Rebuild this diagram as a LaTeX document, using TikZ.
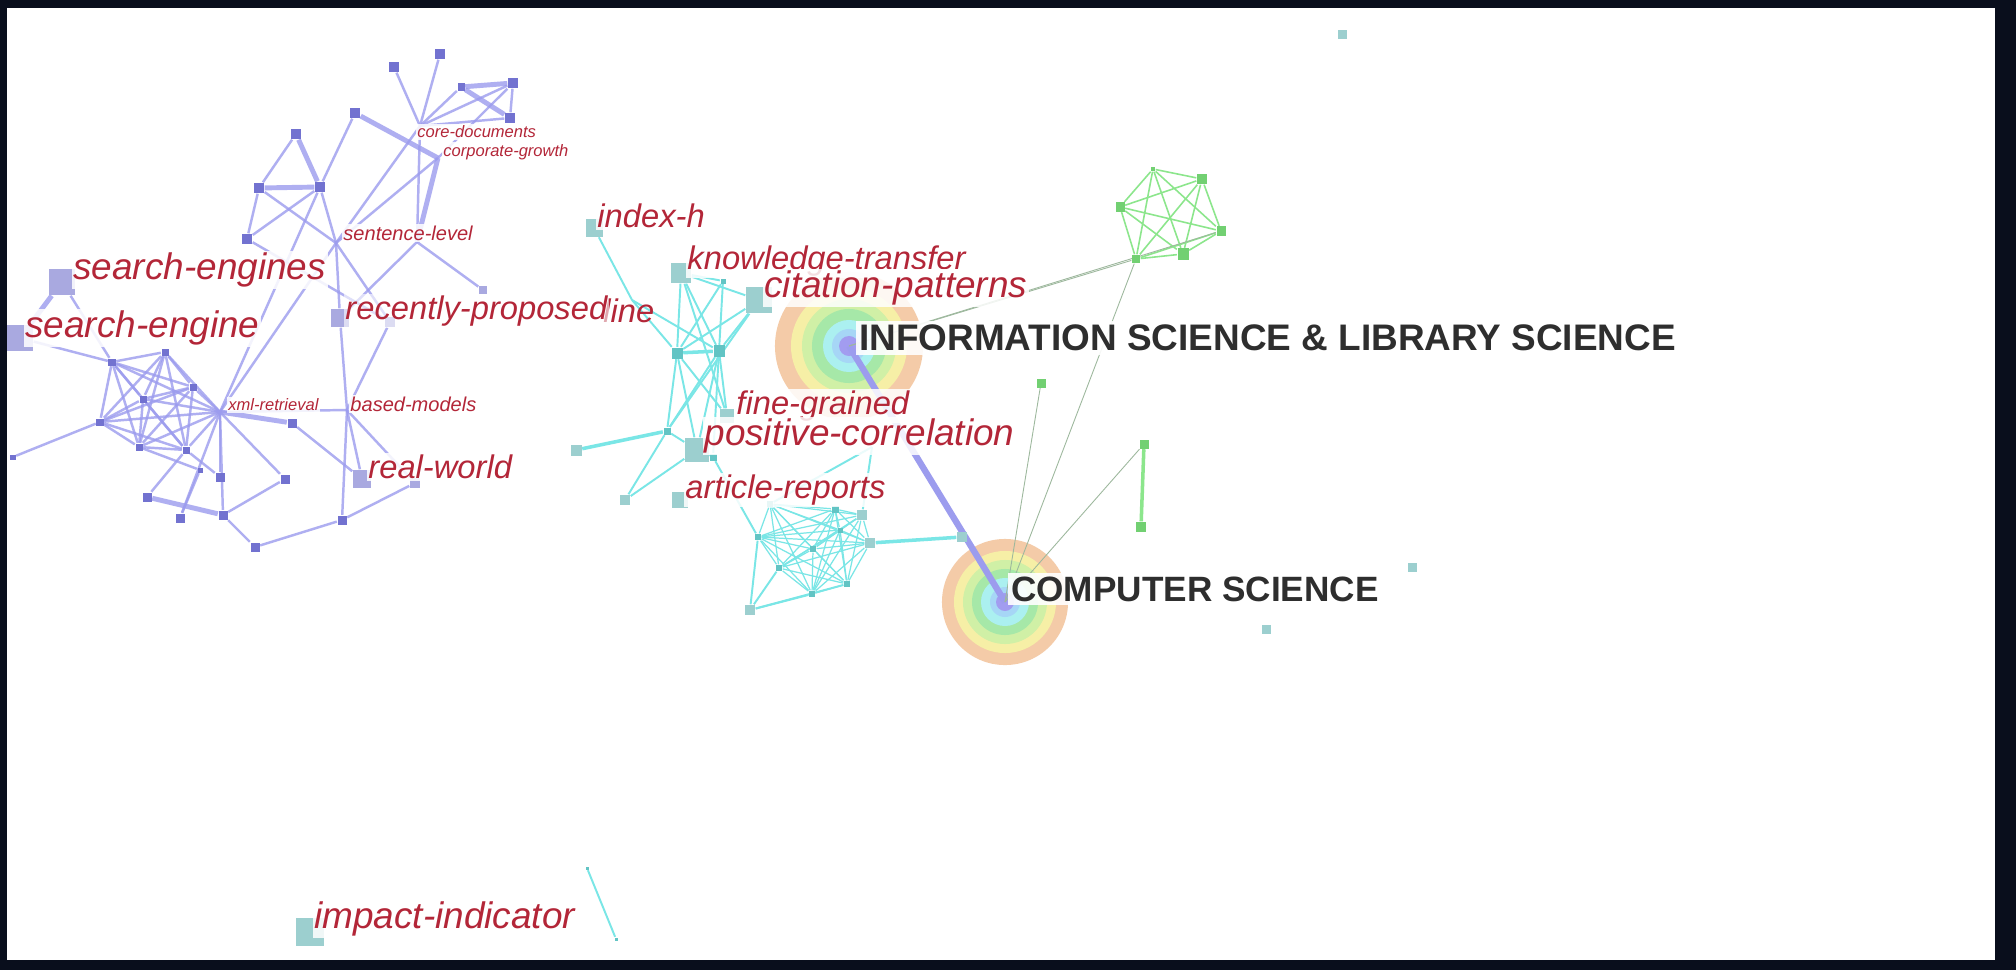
\documentclass[tikz,border=0pt]{standalone}
\usepackage{fontspec}
\setmainfont{Liberation Sans}
\usetikzlibrary{backgrounds}
\definecolor{framedark}{HTML}{090E1C}
\definecolor{kwred}{HTML}{B32638}
\definecolor{cattext}{HTML}{2E2E2E}
\definecolor{purpleedge}{HTML}{9C9CEE}
\definecolor{purplenode}{HTML}{7272D0}
\definecolor{purplelight}{HTML}{A9A9E0}
\definecolor{cyanedge}{HTML}{7AE6E6}
\definecolor{cyannode}{HTML}{62C4C4}
\definecolor{cyanlight}{HTML}{9CCFCF}
\definecolor{greenedge}{HTML}{8CE68C}
\definecolor{greennode}{HTML}{72D072}
\definecolor{linkgray}{HTML}{9DB89D}
\definecolor{ringorange}{HTML}{F4CBA8}
\definecolor{ringyellow}{HTML}{F6EFA6}
\definecolor{ringlime}{HTML}{D0F0A6}
\definecolor{ringgreen}{HTML}{A6E8A8}
\definecolor{ringcyan}{HTML}{ABF0F0}
\definecolor{ringblue}{HTML}{A6D6F6}
\definecolor{ringpurple}{HTML}{A29CF0}
\newcommand{\bigkw}{\fontsize{10.5}{12}\selectfont\itshape}
\newcommand{\midkw}{\fontsize{9.3}{11}\selectfont\itshape}
\newcommand{\smallkw}{\fontsize{5.7}{7}\selectfont\itshape}
\newcommand{\tinykw}{\fontsize{4.7}{6}\selectfont\itshape}
\tikzset{
  kw/.style={anchor=west, text=kwred, fill=white, fill opacity=0.85, text opacity=1, inner xsep=0.5pt, inner ysep=0.6pt},
  kwbig/.style={kw, font=\bigkw},
  kwmid/.style={kw, font=\midkw},
  kwsmall/.style={kw, font=\smallkw},
  kwtiny/.style={kw, font=\tinykw},
  catlabel/.style={anchor=west, text=cattext, fill=white, fill opacity=0.9, text opacity=1, inner sep=1pt, font=\fontsize{#1}{12}\selectfont\bfseries},
  psq/.style={rectangle, inner sep=0pt, minimum size=#1, fill=purplenode},
  psq/.default=0.09cm,
  pbox/.style={rectangle, inner sep=0pt, minimum size=#1, fill=purplelight},
  csq/.style={rectangle, inner sep=0pt, minimum size=#1, fill=cyannode},
  csq/.default=0.07cm,
  cbox/.style={rectangle, inner sep=0pt, minimum size=#1, fill=cyanlight},
  gsq/.style={rectangle, inner sep=0pt, minimum size=#1, fill=greennode},
  gsq/.default=0.09cm,
  pline/.style={draw=purpleedge, line width=0.7pt, draw opacity=0.8},
  pheavy/.style={draw=purpleedge, line width=1.4pt, draw opacity=0.8},
  cline/.style={draw=cyanedge, line width=0.55pt},
  cheavy/.style={draw=cyanedge, line width=1pt},
  gline/.style={draw=greenedge, line width=0.45pt},
  gheavy/.style={draw=greenedge, line width=1pt},
  hairline/.style={draw=linkgray, line width=0.25pt},
}

\begin{document}
\begin{tikzpicture}[x=0.01cm, y=-0.01cm]
  \useasboundingbox (0,0) rectangle (2016,970);

  % purple cluster
  \node[psq=0.1cm] (p1) at (394,67) {};
  \node[psq=0.1cm] (p2) at (440,54) {};
  \node[psq=0.07cm] (p3) at (461,87) {};
  \node[psq=0.1cm] (p4) at (513,83) {};
  \node[psq=0.1cm] (p5) at (510,118) {};
  \node[psq=0.1cm] (p6) at (355,113) {};
  \node[psq=0.1cm] (p7) at (296,134) {};
  \node[psq=0.1cm] (p8) at (259,188) {};
  \node[psq=0.1cm] (p9) at (320,187) {};
  \node[psq=0.1cm] (p10) at (247,239) {};
  \coordinate (cd) at (420,126);
  \coordinate (cg) at (438,158);
  \coordinate (sl) at (336,243);
  \coordinate (sh) at (417,242);
  \node[pbox=0.08cm] (ln) at (483,290) {};
  \node[pbox=0.26cm] (se1) at (62,282) {};
  \node[pbox=0.26cm] (se2) at (20,338) {};
  \node[psq=0.07cm] (q1) at (112,362) {};
  \node[psq=0.07cm] (q2) at (165,352) {};
  \node[psq=0.07cm] (q3) at (193,387) {};
  \node[psq=0.07cm] (q4) at (143,399) {};
  \node[psq=0.07cm] (q5) at (100,422) {};
  \node[psq=0.07cm] (q6) at (139,447) {};
  \node[psq=0.07cm] (q7) at (186,450) {};
  \node[psq=0.05cm] (q8) at (13,457) {};
  \node[psq=0.05cm] (q16) at (200,470) {};
  \coordinate (xr) at (220,412);
  \node[psq] (q9) at (292,423) {};
  \node[psq] (q10) at (220,477) {};
  \node[psq] (q11) at (285,479) {};
  \node[psq] (q12) at (147,497) {};
  \node[psq] (q13) at (180,518) {};
  \node[psq] (q14) at (223,515) {};
  \node[psq] (q15) at (255,547) {};
  \node[pbox=0.18cm] (rp) at (340,318) {};
  \node[pbox=0.1cm] (rp2) at (390,322) {};
  \coordinate (bm) at (347,410);
  \node[pbox=0.18cm] (rw) at (362,479) {};
  \node[pbox=0.1cm] (rw2) at (415,483) {};
  \node[psq] (pb) at (342,520) {};

  % cyan cluster
  \node[cbox=0.17cm] (ih) at (594,228) {};
  \coordinate (lnn) at (632,300);
  \node[cbox=0.2cm] (kt) at (681,273) {};
  \node[cbox=0.26cm] (cp) at (759,300) {};
  \node[csq=0.05cm] (c7) at (723,281) {};
  \node[csq=0.11cm] (c1) at (677,353) {};
  \node[csq=0.11cm] (c2) at (719,351) {};
  \node[cbox=0.14cm] (fg) at (727,416) {};
  \node[csq] (c3) at (667,431) {};
  \node[cbox=0.11cm] (c4) at (576,450) {};
  \node[cbox=0.24cm] (pc) at (697,450) {};
  \coordinate (pcx) at (872,447);
  \node[csq] (c5) at (713,457) {};
  \node[cbox=0.1cm] (c6) at (625,500) {};
  \node[cbox=0.16cm] (ar) at (680,500) {};
  \node[csq=0.06cm] (d1) at (770,504) {};
  \node[csq] (d2) at (835,509) {};
  \node[cbox=0.1cm] (d3) at (862,515) {};
  \node[csq=0.06cm] (d4) at (758,537) {};
  \node[csq=0.05cm] (d7) at (840,530) {};
  \node[cbox=0.1cm] (d5) at (870,543) {};
  \node[csq=0.06cm] (d6) at (813,549) {};
  \node[csq=0.06cm] (d8) at (779,568) {};
  \node[csq=0.06cm] (d9) at (847,584) {};
  \node[csq=0.06cm] (d10) at (812,594) {};
  \node[cbox=0.1cm] (d11) at (750,610) {};
  \node[cbox=0.1cm] (d12) at (962,537) {};
  \node[cbox=0.09cm] (iso1) at (1342,35) {};
  \node[cbox=0.09cm] (iso2) at (1412,567) {};
  \node[cbox=0.09cm] (iso3) at (1266,629) {};
  \node[cbox=0.28cm] (ii) at (310,932) {};
  \node[csq=0.03cm] (ii1) at (587,868) {};
  \node[csq=0.03cm] (ii2) at (616,939) {};

  % green cluster
  \node[gsq=0.04cm] (g1) at (1153,169) {};
  \node[gsq=0.1cm] (g2) at (1202,179) {};
  \node[gsq] (g3) at (1120,207) {};
  \node[gsq] (g4) at (1221,231) {};
  \node[gsq=0.11cm] (g5) at (1183,254) {};
  \node[gsq=0.08cm] (g6) at (1136,259) {};
  \node[gsq] (ga) at (1041,383) {};
  \node[gsq] (g7) at (1144,444) {};
  \node[gsq=0.1cm] (g8) at (1141,527) {};

  \coordinate (info) at (849,346);
  \coordinate (cs) at (1005,602);

  \begin{pgfonlayer}{background}
    \fill[framedark] (0,0) rectangle (2016,970);
    \fill[white] (7,8) rectangle (1995,960);
    % citation rings
    \foreach \r/\c in {0.74/ringorange, 0.58/ringyellow, 0.47/ringlime, 0.37/ringgreen, 0.26/ringcyan, 0.17/ringblue, 0.1/ringpurple}
      \fill[\c] (info) circle (\r cm);
    \foreach \r/\c in {0.63/ringorange, 0.51/ringyellow, 0.42/ringlime, 0.33/ringgreen, 0.24/ringcyan, 0.15/ringblue, 0.09/ringpurple}
      \fill[\c] (cs) circle (\r cm);
    % purple links
    \foreach \a/\b in {p1/cd, p2/cd, p3/cd, p4/cd, p4/cg, p5/cd, p4/p5, cd/sh, p6/p9, p7/p8, p8/p10, p8/sl, p9/p10, p9/sl, cd/sl, cg/sl, sh/ln, sh/rp, sl/rp2, p10/rp2, se1/q1, se2/q1, q5/q8, q6/q16, q16/q13, xr/q10, xr/q11, xr/q13, xr/q14, q7/q10, q7/q12, q11/q14, q14/q15, q15/pb, q9/rw, xr/bm, xr/p9, xr/sl, rp/bm, rp2/bm, bm/pb, bm/rw, bm/rw2, pb/rw2, sl/rp}
      \draw[pline] (\a) -- (\b);
    \foreach \a/\b in {p3/p4, p3/p5, cg/sh, p6/cg, p7/p9, p8/p9, se1/se2, xr/q9, q12/q14}
      \draw[pheavy] (\a) -- (\b);
    \foreach \a [count=\i] in {q1,q2,q3,q4,q5,q6,q7,xr}
      \foreach \b [count=\j] in {q1,q2,q3,q4,q5,q6,q7,xr}
        {\ifnum\i<\j \draw[pline] (\a) -- (\b); \fi}
    \draw[purpleedge, line width=1.8pt] (info) -- (cs);
    % cyan links
    \foreach \a/\b in {ih/lnn, lnn/c1, lnn/c2, kt/c1, kt/c2, kt/c7, kt/cp, kt/fg, c7/c1, c7/c2, cp/c1, cp/c2, cp/c3, c1/c3, c1/fg, c1/pc, c2/c3, c2/pc, c2/fg, c2/c5, c3/c6, c3/pc, c6/pc, pc/c5, c5/d4, pcx/d1, pcx/d3, d11/d4, d11/d8, d11/d10, d11/d9, ii1/ii2}
      \draw[cline] (\a) -- (\b);
    \foreach \a/\b in {c1/c2, c3/c4, d5/d12}
      \draw[cheavy] (\a) -- (\b);
    \foreach \a [count=\i] in {d1,d2,d3,d4,d7,d5,d6,d8,d9,d10}
      \foreach \b [count=\j] in {d1,d2,d3,d4,d7,d5,d6,d8,d9,d10}
        {\ifnum\i<\j \draw[cyanedge, line width=0.35pt] (\a) -- (\b); \fi}
    % green links
    \foreach \a [count=\i] in {g1,g2,g3,g4,g5,g6}
      \foreach \b [count=\j] in {g1,g2,g3,g4,g5,g6}
        {\ifnum\i<\j \draw[gline] (\a) -- (\b); \fi}
    \draw[gheavy] (g7) -- (g8);
    \foreach \a/\b in {info/g6, info/g4, cs/g6, cs/ga, cs/g7}
      \draw[hairline] (\a) -- (\b);
  \end{pgfonlayer}

  % keyword labels
  \node[kwtiny] (cdl) at (415,132) {core-documents};
  \node[kwtiny] (cgl) at (441,152) {corporate-growth};
  \node[kwsmall] (sll) at (341,233) {sentence-level};
  \node[kwbig] (se1l) at (71,270) {search-engines};
  \node[kwbig] (se2l) at (23,328) {search-engine};
  \node[kwmid, fill=none] (lnl) at (601,311) {line};
  \node[kwmid, fill opacity=0.6] (rpl) at (343,311) {recently-proposed};
  \node[kwtiny] (xrl) at (226,405) {xml-retrieval};
  \node[kwsmall] (bml) at (348,404) {based-models};
  \node[kwmid] (rwl) at (366,467) {real-world};
  \node[kwmid] (ihl) at (595,216) {index-h};
  \node[kwmid] (ktl) at (685,261) {knowledge-transfer};
  \node[kwbig] (cpl) at (762,288) {citation-patterns};
  \node[kwmid] (fgl) at (734,406) {fine-grained};
  \node[kwbig] (pcl) at (702,436) {positive-correlation};
  \node[kwmid] (arl) at (683,490) {article-reports};
  \node[kwbig] (iil) at (312,919) {impact-indicator};

  % category labels
  \node[catlabel=10.5] (infol) at (855,338) {INFORMATION SCIENCE \& LIBRARY SCIENCE};
  \node[catlabel=10] (csl) at (1007,589) {COMPUTER SCIENCE};
\end{tikzpicture}
\end{document}
